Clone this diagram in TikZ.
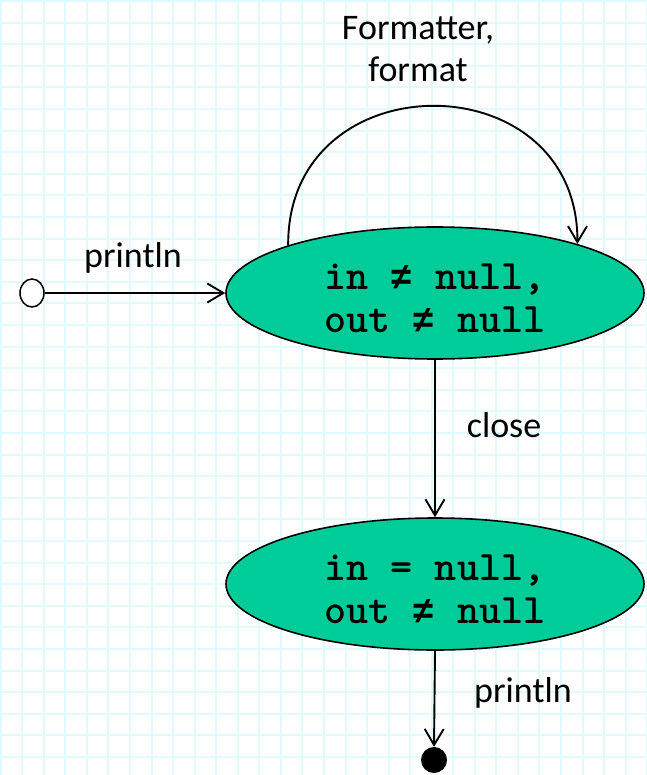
\documentclass[tikz,border=0pt]{standalone}
\usepackage{fontspec}
\setmainfont{Carlito}
\newfontfamily\neqfam{Liberation Mono}
\newcommand{\neqsym}{{\neqfam\bfseries\fontsize{37}{43}\selectfont ≠}}
\usetikzlibrary{arrows.meta,shapes.geometric}
\definecolor{gridc}{RGB}{225,250,254}
\definecolor{statec}{RGB}{0,204,153}
\tikzset{
  gridline/.style={draw=gridc,line width=2pt},
  state/.style={ellipse,draw=black,line width=1.6pt,fill=statec,minimum width=418pt,minimum height=132pt,inner sep=0pt},
  statetext/.style={font=\ttfamily\bfseries\fontsize{42}{43}\selectfont,align=center,inner sep=0pt},
  lbl/.style={font=\fontsize{36}{42}\selectfont,align=center,inner sep=0pt},
  arr/.style={line width=1.9pt,-{Straight Barb[length=16pt,width=19pt,line width=1.9pt]}},
  initst/.style={ellipse,draw=black,line width=1.5pt,fill=white,minimum width=24pt,minimum height=28pt,inner sep=0pt},
  finalst/.style={circle,fill=black,minimum size=26pt,inner sep=0pt},
}
\begin{document}
\begin{tikzpicture}[x=1pt,y=-1pt]
\useasboundingbox (0,0) rectangle (646,775);
\fill[white] (0,0) rectangle (646,775);
\foreach \k in {0,...,30} {\draw[gridline] (0.7+21.55*\k,0) -- (0.7+21.55*\k,775);}
\foreach \k in {0,...,36} {\draw[gridline] (0,1+21.6*\k) -- (646,1+21.6*\k);}
\node[state] (s1) at (435,293) {};
\node[statetext] (t1) at ([yshift=-5pt]s1.center) {in \neqsym{} null,\\out \neqsym{} null};
\node[state] (s2) at (435,584) {};
\node[statetext] (t2) at ([yshift=-5pt]s2.center) {in = null,\\out \neqsym{} null};
\node[initst] (i) at (32,293) {};
\node[finalst] (f) at (434,760) {};
\draw[arr] (i) -- (s1);
\draw[arr] (s1.south) -- (s2.north);
\draw[arr] (s2.south) -- (f.north);
\draw[arr] (s1.162) .. controls (287,60) and (578,60) .. (s1.19);
\node[lbl] (l1) at (133,258) {println};
\node[lbl] (l2) at (504,425) {close};
\node[lbl] (l3) at (523,693) {println};
\node[lbl] (l4) at (418,49) {Formatter,\\format};
\end{tikzpicture}
\end{document}
